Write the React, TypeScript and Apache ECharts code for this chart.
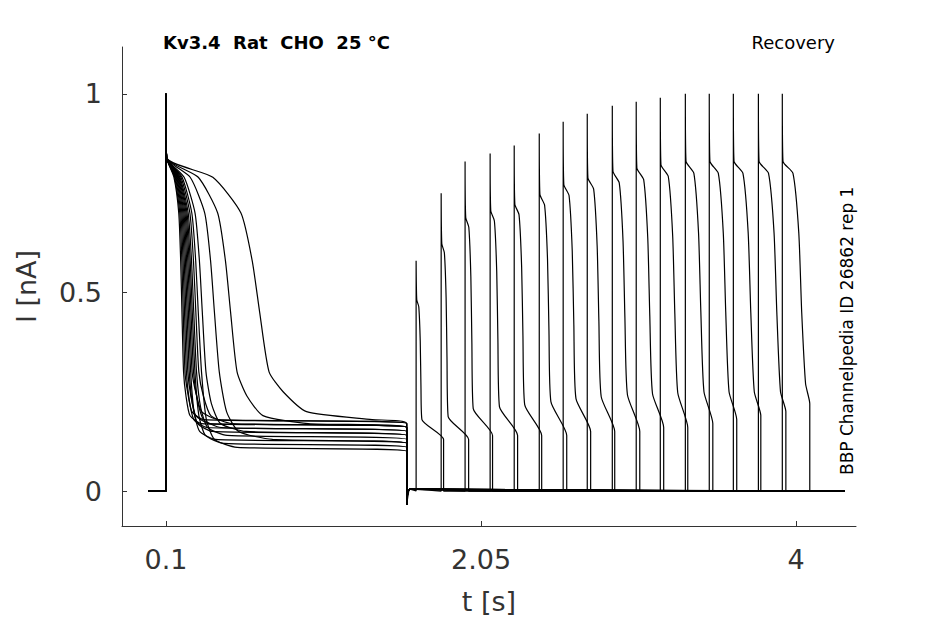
import * as echarts from "echarts";
import { useEffect, useRef } from "react";

// one entry per sweep (16 sweeps)
const pulse1DecayMid = [0.099, 0.107, 0.115, 0.123, 0.131, 0.139, 0.147, 0.155, 0.163, 0.172, 0.185, 0.2, 0.225, 0.3, 0.4, 0.58];
const pulse1Final = [0.16, 0.17, 0.15, 0.16, 0.14, 0.12, 0.17, 0.15, 0.11, 0.13, 0.16, 0.1, 0.14, 0.12, 0.16, 0.17];
const pulse2Start = [1.648, 1.803, 1.951, 2.106, 2.255, 2.41, 2.558, 2.707, 2.862, 3.01, 3.159, 3.314, 3.462, 3.611, 3.766, 3.914];
const pulse2Peak = [0.58, 0.75, 0.83, 0.85, 0.87, 0.9, 0.93, 0.95, 0.97, 0.98, 0.99, 1, 1, 1, 1, 1];
const pulse2DecayMid = [0.03, 0.036, 0.042, 0.048, 0.054, 0.06, 0.066, 0.072, 0.078, 0.084, 0.09, 0.096, 0.102, 0.108, 0.114, 0.12];
const pulse2EndLevel = [0.13, 0.13, 0.14, 0.14, 0.14, 0.14, 0.15, 0.15, 0.15, 0.16, 0.16, 0.17, 0.18, 0.19, 0.2, 0.22];
const pulse2Length = 0.17;
const stepOn = 0.1;
const stepOff = 1.59;
const xTicks = [0.1, 2.05, 4];
const yTicks = [0, 0.5, 1];

function sweep(i: number): number[][] {
  const d = pulse1DecayMid[i];
  const f = pulse1Final[i];
  const s = pulse2Start[i];
  const p = pulse2Peak[i];
  const d2 = pulse2DecayMid[i];
  const e = pulse2EndLevel[i];
  return [
    [-0.01, 0], [stepOn, 0], [stepOn, 1], [stepOn + 0.004, 0.84],
    [stepOn + d * 0.5, 0.79], [stepOn + d * 0.8, 0.7], [stepOn + d * 0.92, 0.58], [stepOn + d, 0.45],
    [stepOn + d * 1.1, 0.3], [stepOn + d * 1.25, f + 0.08], [stepOn + d * 1.5, f + 0.03], [stepOn + d * 2.2, f + 0.01],
    [stepOff, f], [stepOff, -0.035], [stepOff + 0.02, 0.005],
    [s, 0], [s, p], [s + 0.004, 0.83 * p], [s + d2 * 0.55, 0.8 * p],
    [s + d2 * 0.85, 0.65 * p], [s + d2, 0.45 * p], [s + d2 * 1.2, Math.max(e + 0.05, 0.25 * p)],
    [s + pulse2Length, e], [s + pulse2Length, 0], [4.3, 0],
  ];
}

const App = () => {
  const ref = useRef<HTMLDivElement>(null);
  useEffect(() => {
    const chart = echarts.init(ref.current!, null, { renderer: "svg" });
    const font = "DejaVu Sans";
    chart.setOption({
      animation: false,
      grid: { left: 122, right: 89, top: 47, bottom: 98 },
      title: [
        { text: "Kv3.4  Rat  CHO  25 °C", left: 158, top: 28, textStyle: { fontFamily: font, fontSize: 18, fontWeight: "bold", color: "#000" } },
        { text: "Recovery", right: 105, top: 28, textStyle: { fontFamily: font, fontSize: 18, fontWeight: "normal", color: "#000" } },
      ],
      graphic: [{
        type: "text", x: 838, y: 475, rotation: Math.PI / 2,
        style: { text: "BBP Channelpedia ID 26862 rep 1", font: `17px ${font}`, fill: "#000" },
      }],
      xAxis: {
        type: "value", min: -0.172, max: 4.37,
        name: "t [s]", nameLocation: "middle", nameGap: 62,
        nameTextStyle: { fontFamily: font, fontSize: 27, color: "#333" },
        axisLine: { onZero: false, lineStyle: { color: "#333" } },
        axisTick: { customValues: xTicks, inside: true, lineStyle: { color: "#333" } },
        axisLabel: { customValues: xTicks, fontFamily: font, fontSize: 27, color: "#333", margin: 20, formatter: (v: number) => String(v) },
        splitLine: { show: false },
      },
      yAxis: {
        type: "value", min: -0.088, max: 1.118,
        name: "I [nA]", nameLocation: "middle", nameGap: 82,
        nameTextStyle: { fontFamily: font, fontSize: 27, color: "#333" },
        axisLine: { show: true, onZero: false, lineStyle: { color: "#333" } },
        axisTick: { show: true, customValues: yTicks, inside: true, lineStyle: { color: "#333" } },
        axisLabel: { customValues: yTicks, fontFamily: font, fontSize: 27, color: "#333", margin: 20, formatter: (v: number) => String(v) },
        splitLine: { show: false },
      },
      series: pulse2Start.map((_, i) => ({
        type: "line", data: sweep(i), showSymbol: false, silent: true, smooth: 0.2,
        lineStyle: { color: "#000", width: 1.2 },
      })),
    });
    return () => chart.dispose();
  }, []);
  return <div ref={ref} style={{ width: 945, height: 624, margin: -8 }} />;
};

export default App;
